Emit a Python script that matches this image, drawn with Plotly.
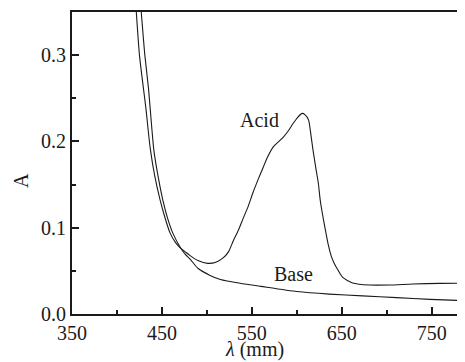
import plotly.graph_objects as go

# Acid spectrum (wavelength nm, absorbance)
acid_wl = [421.5, 425, 429, 432, 437, 442, 448, 453, 459, 465, 470, 476, 481, 490,
           501, 510, 518, 524, 529, 535, 540, 546, 551, 557, 563, 568, 574, 580,
           585, 591, 596, 601, 606, 609, 613, 616, 618, 621, 624, 626, 629, 632,
           635, 638, 641, 644, 651, 662, 681, 703, 729, 759, 787]
acid_abs = [0.350, 0.300, 0.265, 0.240, 0.192, 0.160, 0.132, 0.113, 0.094, 0.083, 0.077,
            0.072, 0.068, 0.062, 0.0587, 0.060, 0.065, 0.072, 0.084, 0.097, 0.110, 0.125,
            0.140, 0.156, 0.171, 0.183, 0.194, 0.200, 0.205, 0.213, 0.221, 0.228, 0.2325,
            0.231, 0.225, 0.205, 0.190, 0.170, 0.151, 0.132, 0.113, 0.096, 0.080, 0.068,
            0.060, 0.054, 0.0424, 0.036, 0.0336, 0.0336, 0.0348, 0.0355, 0.0357]

# Base spectrum
base_wl = [427, 431, 435, 441, 446, 451, 456, 462, 470, 476, 481, 490, 503, 515,
           537, 560, 600, 636, 673, 711, 748, 787]
base_abs = [0.350, 0.300, 0.262, 0.190, 0.158, 0.132, 0.112, 0.094, 0.078, 0.069,
            0.064, 0.053, 0.045, 0.040, 0.0356, 0.032, 0.026, 0.023, 0.021, 0.019,
            0.017, 0.0155]

x_ticks = [350, 450, 550, 650, 750]
y_ticks = [0.0, 0.1, 0.2, 0.3]

FONT = "Liberation Serif"
INK = "#1a1a1a"

fig = go.Figure()
fig.add_trace(go.Scatter(x=acid_wl, y=acid_abs, mode="lines", name="Acid",
                         line=dict(color=INK, width=1.1, shape="spline", smoothing=0.6)))
fig.add_trace(go.Scatter(x=base_wl, y=base_abs, mode="lines", name="Base",
                         line=dict(color=INK, width=1.1, shape="spline", smoothing=0.6)))

# The page body has an 8px margin, so the figure is sized to fit the window.
fig.update_layout(
    width=457, height=354,
    margin=dict(l=64, r=0, t=4, b=48),
    paper_bgcolor="white", plot_bgcolor="white",
    showlegend=False,
    font=dict(family=FONT, size=20, color=INK),
)
fig.update_xaxes(
    range=[350, 787], tickvals=x_ticks, ticktext=[str(v) for v in x_ticks],
    showgrid=False, zeroline=False,
    showline=True, linecolor=INK, linewidth=2, mirror=True,
    ticks="inside", ticklen=7, tickwidth=1.5, tickcolor=INK,
    minor=dict(ticks="inside", ticklen=4, tickwidth=1.5, tickcolor=INK,
               tickvals=[400, 500, 600, 700]),
    tickfont=dict(family=FONT, size=20, color=INK),
)
fig.update_yaxes(
    range=[0, 0.35], tickvals=y_ticks, ticktext=["%.1f" % v for v in y_ticks],
    showgrid=False, zeroline=False,
    showline=True, linecolor=INK, linewidth=2, mirror=False,
    ticks="inside", ticklen=7, tickwidth=1.5, tickcolor=INK,
    minor=dict(ticks="inside", ticklen=4, tickwidth=1.5, tickcolor=INK,
               tickvals=[0.05, 0.15, 0.25]),
    tickfont=dict(family=FONT, size=20, color=INK),
)

fig.add_annotation(x=558, y=0.2254, text="Acid", showarrow=False,
                   font=dict(family=FONT, size=20, color=INK))
fig.add_annotation(x=596, y=0.0458, text="Base", showarrow=False,
                   font=dict(family=FONT, size=20, color=INK))
fig.add_annotation(x=553, xref="x", y=-0.118, yref="paper", yanchor="middle",
                   xanchor="center", text="<i>λ</i> (mm)", showarrow=False,
                   font=dict(family=FONT, size=20, color=INK))
fig.add_annotation(x=0, xref="paper", xshift=-51, xanchor="center",
                   y=0.44, yref="paper", yanchor="middle",
                   text="A", showarrow=False, textangle=-90,
                   font=dict(family=FONT, size=20, color=INK))

fig.write_html("out.html")
